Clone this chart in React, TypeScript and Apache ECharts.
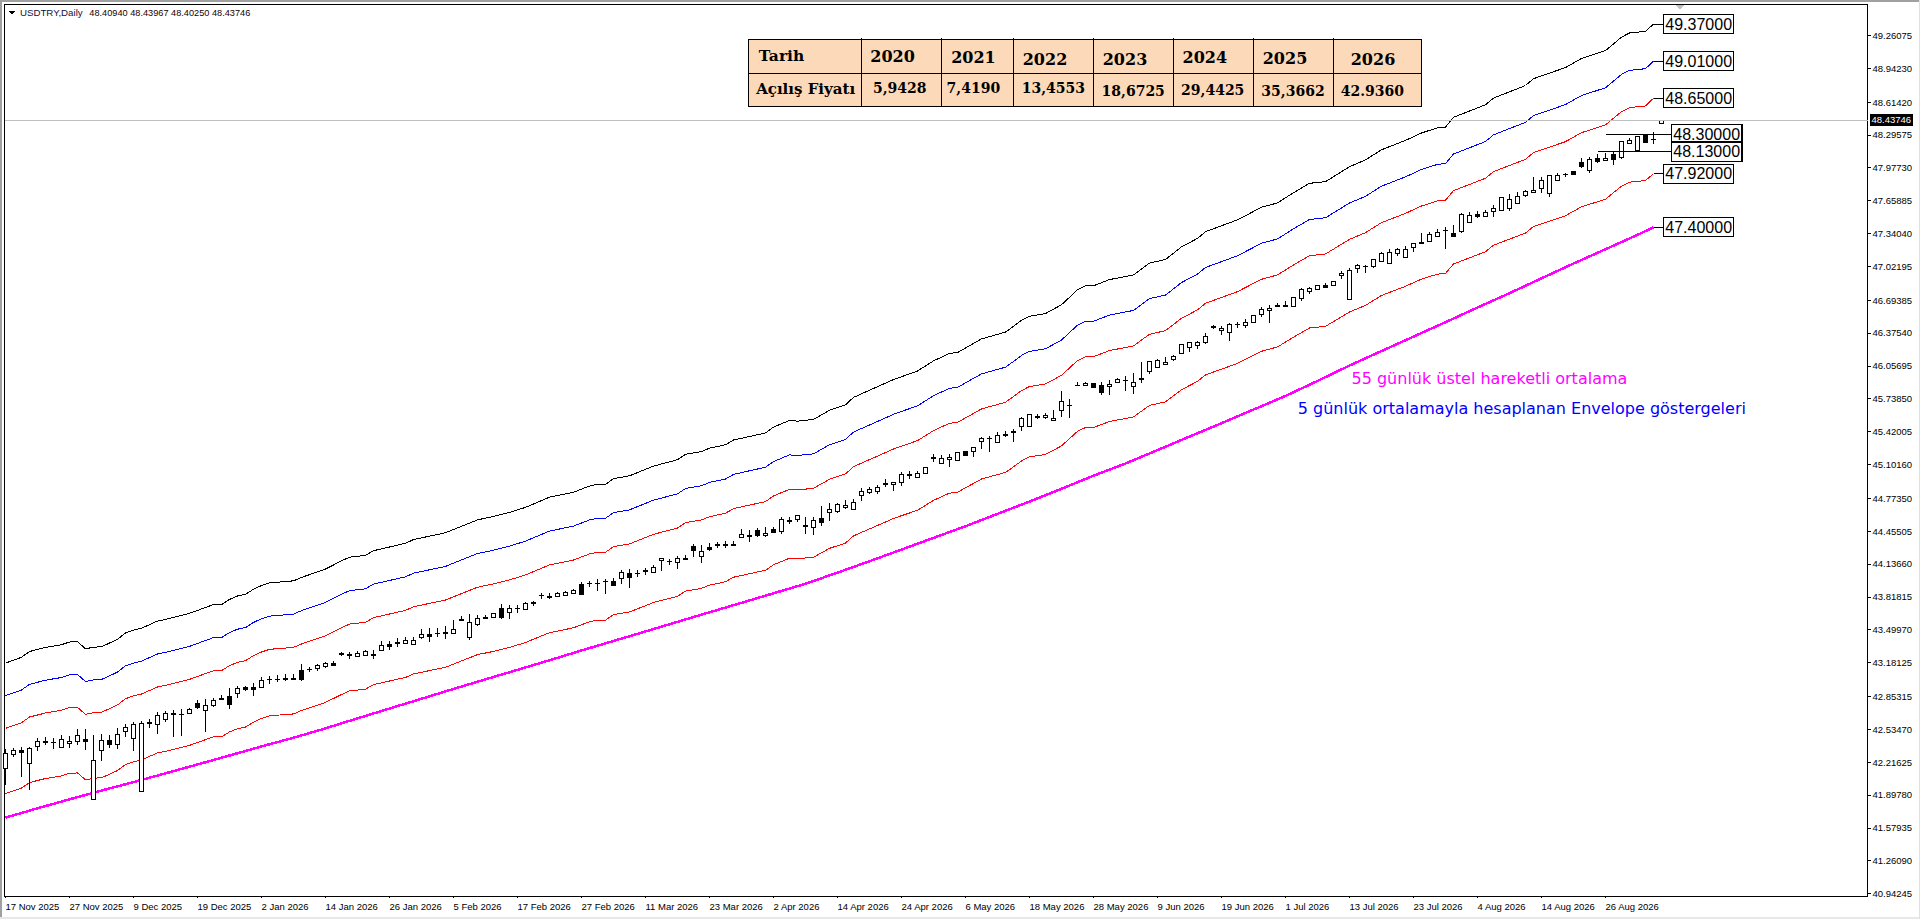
import React, { useEffect, useRef } from "react";
import * as echarts from "echarts";

const opens = [42.156,42.285,42.330,42.204,42.366,42.417,42.408,42.356,42.398,42.414,42.437,41.855,42.333,42.427,42.388,42.511,42.447,41.933,42.602,42.582,42.631,42.689,42.682,42.689,42.786,42.718,42.766,42.834,42.850,42.883,42.941,42.941,42.941,43.018,43.018,43.028,43.025,43.102,43.118,43.122,43.141,43.167,43.264,43.257,43.241,43.251,43.257,43.299,43.354,43.377,43.367,43.357,43.422,43.454,43.464,43.474,43.464,43.600,43.425,43.548,
43.620,43.620,43.707,43.668,43.707,43.698,43.759,43.830,43.823,43.823,43.833,43.849,43.940,43.946,43.949,43.969,43.962,43.998,44.046,44.046,44.069,44.056,44.172,44.162,44.153,44.192,44.308,44.211,44.298,44.324,44.324,44.321,44.395,44.411,44.463,44.415,44.473,44.450,44.560,44.570,44.508,44.492,44.579,44.637,44.641,44.686,44.666,44.802,44.828,44.841,44.915,44.905,44.928,45.006,44.977,45.015,45.167,45.106,45.145,45.141,
45.223,45.226,45.326,45.355,45.316,45.394,45.416,45.468,45.468,45.565,45.555,45.529,45.623,45.675,45.865,45.869,45.881,45.869,45.859,45.898,45.917,45.856,45.933,46.004,46.043,46.072,46.117,46.179,46.237,46.256,46.282,46.434,46.398,46.382,46.456,46.447,46.476,46.553,46.595,46.637,46.637,46.634,46.708,46.773,46.799,46.831,46.834,46.928,46.702,47.002,47.022,47.015,47.067,47.051,47.141,47.106,47.203,47.257,47.264,47.309,
47.371,47.342,47.358,47.449,47.523,47.507,47.549,47.562,47.578,47.633,47.707,47.739,47.775,47.730,47.855,47.913,47.936,48.030,47.946,48.069,48.049,48.107,48.075,48.214,48.143,48.285,48.249,48.40940];
const closes = [42.301,42.330,42.311,42.350,42.414,42.405,42.405,42.437,42.417,42.472,42.417,42.233,42.424,42.382,42.482,42.550,42.585,42.592,42.592,42.669,42.686,42.679,42.679,42.728,42.744,42.763,42.812,42.825,42.776,42.931,42.918,42.921,43.009,43.012,43.012,43.018,43.018,43.012,43.115,43.154,43.167,43.157,43.257,43.251,43.270,43.290,43.254,43.348,43.335,43.370,43.390,43.390,43.454,43.435,43.458,43.467,43.503,43.593,43.571,43.609,
43.610,43.659,43.617,43.701,43.704,43.756,43.752,43.827,43.814,43.846,43.856,43.882,43.843,43.943,43.946,43.966,43.930,44.056,44.007,44.040,44.062,44.104,44.188,44.159,44.192,44.182,44.269,44.256,44.276,44.318,44.318,44.318,44.424,44.405,44.411,44.434,44.444,44.570,44.550,44.605,44.502,44.557,44.540,44.666,44.712,44.705,44.734,44.838,44.857,44.880,44.909,44.925,45.006,44.996,45.015,45.070,45.161,45.161,45.170,45.216,
45.187,45.265,45.352,45.352,45.384,45.384,45.413,45.549,45.581,45.558,45.578,45.549,45.714,45.672,45.862,45.888,45.849,45.798,45.878,45.927,45.914,45.898,45.924,46.098,46.108,46.091,46.150,46.263,46.282,46.282,46.343,46.424,46.421,46.460,46.453,46.479,46.540,46.605,46.615,46.628,46.631,46.721,46.799,46.808,46.831,46.821,46.870,46.954,46.983,47.031,47.015,47.090,47.148,47.151,47.180,47.180,47.241,47.245,47.332,47.351,
47.368,47.313,47.526,47.516,47.507,47.545,47.578,47.691,47.671,47.701,47.746,47.759,47.852,47.897,47.897,47.910,47.910,47.988,48.059,48.033,48.069,48.053,48.233,48.243,48.279,48.221,48.246,48.43746];
const lows = [41.994,42.269,42.075,41.946,42.327,42.382,42.340,42.350,42.356,42.382,42.333,41.855,42.230,42.350,42.343,42.456,42.327,41.933,42.543,42.489,42.608,42.456,42.472,42.682,42.731,42.511,42.753,42.825,42.728,42.834,42.908,42.860,42.937,42.973,42.996,43.002,43.018,43.005,43.093,43.102,43.125,43.154,43.248,43.215,43.238,43.244,43.215,43.296,43.303,43.328,43.361,43.354,43.409,43.383,43.432,43.409,43.458,43.587,43.399,43.538,
43.610,43.610,43.607,43.607,43.665,43.691,43.733,43.801,43.794,43.820,43.827,43.843,43.840,43.911,43.878,43.849,43.927,43.943,43.907,44.014,44.033,44.046,44.072,44.127,44.092,44.182,44.208,44.150,44.266,44.289,44.289,44.318,44.395,44.353,44.402,44.402,44.440,44.431,44.527,44.540,44.431,44.415,44.508,44.557,44.634,44.673,44.663,44.750,44.815,44.815,44.880,44.847,44.893,44.964,44.973,45.012,45.122,45.103,45.080,45.138,
45.184,45.177,45.255,45.226,45.313,45.365,45.316,45.429,45.465,45.539,45.542,45.526,45.565,45.549,45.859,45.862,45.846,45.778,45.778,45.894,45.817,45.788,45.894,45.978,46.040,46.069,46.108,46.175,46.195,46.224,46.269,46.418,46.356,46.301,46.421,46.427,46.469,46.534,46.476,46.624,46.628,46.631,46.689,46.757,46.792,46.818,46.831,46.902,46.702,46.960,46.960,47.009,47.064,47.048,47.122,47.102,47.164,47.245,47.261,47.303,
47.193,47.310,47.348,47.445,47.494,47.503,47.503,47.558,47.562,47.629,47.691,47.733,47.736,47.697,47.849,47.891,47.904,47.978,47.930,48.020,48.046,48.004,48.066,48.211,48.140,48.217,48.208,48.40250];
const highs = [42.343,42.350,42.359,42.366,42.447,42.456,42.453,42.479,42.469,42.537,42.537,42.479,42.489,42.479,42.543,42.582,42.608,42.614,42.631,42.702,42.711,42.721,42.731,42.737,42.818,42.828,42.834,42.866,42.934,42.954,42.954,42.980,43.038,43.051,43.060,43.070,43.070,43.167,43.141,43.167,43.190,43.196,43.280,43.286,43.293,43.303,43.303,43.390,43.390,43.416,43.425,43.425,43.506,43.512,43.512,43.535,43.593,43.635,43.651,43.642,
43.643,43.665,43.749,43.740,43.740,43.772,43.778,43.853,43.853,43.865,43.872,43.891,43.966,43.975,43.988,43.988,43.998,44.079,44.088,44.079,44.101,44.127,44.188,44.185,44.214,44.224,44.330,44.321,44.337,44.347,44.363,44.363,44.473,44.466,44.482,44.492,44.499,44.589,44.595,44.608,44.589,44.595,44.696,44.725,44.731,44.757,44.763,44.870,44.880,44.902,44.957,44.925,45.025,45.035,45.041,45.077,45.199,45.193,45.199,45.225,
45.223,45.265,45.365,45.378,45.413,45.429,45.442,45.565,45.588,45.591,45.597,45.630,45.814,45.736,45.904,45.904,45.894,45.901,45.920,45.940,45.962,45.988,46.091,46.101,46.121,46.140,46.159,46.269,46.285,46.295,46.372,46.450,46.444,46.469,46.485,46.508,46.550,46.631,46.647,46.670,46.689,46.728,46.812,46.825,46.841,46.857,46.880,46.980,47.002,47.044,47.035,47.096,47.164,47.186,47.196,47.222,47.251,47.348,47.358,47.380,
47.400,47.423,47.536,47.549,47.562,47.568,47.616,47.697,47.720,47.739,47.762,47.885,47.885,47.904,47.923,47.930,47.949,48.069,48.078,48.111,48.117,48.143,48.240,48.262,48.285,48.295,48.321,48.43967];

const bandBars = [0,2,3,5,7,8,9,10,11,12,14,15,16,17,19,20,23,26,27,28,29,30,31,32,33,36,37,40,41,42,43,45,46,50,51,55,59,61,63,65,67,68,71,73,74,75,76,78,81,84,85,87,88,90,91,94,95,96,98,99,101,103,105,106,110,111,114,116,118,119,122,125,126,127,128,130,132,134,135,136,138,141,143,145,147,149,150,154,157,159,161,163,165,168,170,172,175,177,179,180,181,185,186,190,191,195,197,200,202,203,205,206];
const upperRed = [42.543,42.598,42.653,42.692,42.718,42.744,42.747,42.679,42.695,42.699,42.770,42.831,42.857,42.876,42.944,42.960,43.018,43.102,43.102,43.151,43.183,43.199,43.248,43.283,43.309,43.328,43.361,43.441,43.480,43.519,43.554,43.571,43.616,43.687,43.722,43.787,43.911,43.943,43.982,44.030,44.095,44.127,44.175,44.234,44.250,44.250,44.305,44.331,44.424,44.485,44.537,44.563,44.595,44.628,44.673,44.724,44.741,44.796,44.860,44.854,44.870,44.957,45.009,45.080,45.216,45.251,45.332,45.429,45.500,45.509,45.639,45.704,45.759,45.817,45.856,45.881,45.965,46.108,46.146,46.146,46.205,46.250,46.363,46.398,46.518,46.599,46.663,46.776,46.896,46.938,47.035,47.125,47.141,47.283,47.348,47.445,47.535,47.606,47.655,47.662,47.755,47.875,47.939,48.059,48.124,48.230,48.317,48.392,48.521,48.560,48.576,48.650];
const upperBlue = [42.860,42.915,42.970,43.010,43.036,43.062,43.065,42.997,43.013,43.017,43.088,43.150,43.176,43.195,43.264,43.280,43.338,43.423,43.423,43.472,43.504,43.520,43.570,43.605,43.631,43.650,43.684,43.764,43.804,43.843,43.878,43.895,43.941,44.012,44.047,44.113,44.238,44.270,44.309,44.358,44.423,44.455,44.504,44.563,44.579,44.579,44.635,44.661,44.755,44.816,44.868,44.895,44.927,44.960,45.005,45.057,45.074,45.129,45.194,45.188,45.204,45.292,45.344,45.415,45.552,45.588,45.669,45.767,45.839,45.848,45.979,46.044,46.099,46.158,46.197,46.222,46.307,46.451,46.489,46.489,46.549,46.594,46.708,46.743,46.864,46.946,47.010,47.124,47.245,47.287,47.385,47.476,47.492,47.635,47.700,47.798,47.889,47.960,48.010,48.017,48.110,48.231,48.296,48.417,48.482,48.589,48.677,48.752,48.882,48.921,48.937,49.010];
const upperBlack = [43.176,43.232,43.288,43.327,43.354,43.380,43.383,43.314,43.330,43.334,43.406,43.468,43.495,43.514,43.583,43.599,43.658,43.743,43.743,43.793,43.826,43.842,43.892,43.927,43.953,43.973,44.006,44.087,44.127,44.167,44.202,44.219,44.265,44.337,44.373,44.439,44.564,44.597,44.636,44.685,44.751,44.784,44.832,44.892,44.908,44.908,44.964,44.991,45.085,45.147,45.200,45.226,45.259,45.292,45.338,45.389,45.407,45.463,45.528,45.521,45.538,45.626,45.679,45.751,45.889,45.924,46.007,46.105,46.177,46.186,46.318,46.384,46.440,46.499,46.538,46.564,46.649,46.794,46.833,46.833,46.893,46.938,47.053,47.088,47.210,47.292,47.357,47.472,47.594,47.636,47.735,47.826,47.842,47.987,48.053,48.151,48.242,48.314,48.364,48.371,48.466,48.587,48.652,48.774,48.840,48.948,49.036,49.112,49.243,49.283,49.299,49.370];
const lowerRed = [41.910,41.964,42.018,42.057,42.082,42.108,42.111,42.044,42.060,42.064,42.134,42.194,42.219,42.238,42.305,42.321,42.378,42.461,42.461,42.509,42.540,42.556,42.604,42.639,42.665,42.683,42.716,42.795,42.833,42.871,42.906,42.923,42.967,43.037,43.071,43.135,43.258,43.289,43.328,43.375,43.439,43.470,43.518,43.576,43.592,43.592,43.646,43.671,43.763,43.823,43.874,43.900,43.931,43.964,44.008,44.059,44.075,44.129,44.192,44.187,44.202,44.288,44.339,44.409,44.543,44.578,44.657,44.753,44.823,44.832,44.960,45.024,45.078,45.135,45.174,45.198,45.281,45.422,45.459,45.459,45.517,45.562,45.673,45.708,45.826,45.906,45.969,46.080,46.198,46.240,46.335,46.424,46.440,46.579,46.643,46.739,46.828,46.898,46.946,46.953,47.044,47.163,47.226,47.344,47.408,47.512,47.598,47.672,47.799,47.837,47.853,47.920];

const emaBars = [0,4,8,12,16,20,24,28,32,36,40,44,48,52,56,60,64,68,72,76,80,84,88,92,96,100,104,108,112,116,120,124,128,132,136,140,144,148,152,156,160,164,168,172,176,180,184,188,192,196,200,204,206];
const emaValues = [41.678,41.768,41.855,41.940,42.022,42.107,42.193,42.280,42.368,42.452,42.543,42.640,42.735,42.830,42.925,43.018,43.110,43.203,43.298,43.390,43.482,43.575,43.668,43.760,43.852,43.945,44.052,44.163,44.276,44.389,44.502,44.622,44.741,44.865,44.992,45.110,45.240,45.371,45.500,45.633,45.765,45.910,46.060,46.200,46.340,46.480,46.622,46.761,46.905,47.048,47.187,47.326,47.400];

const priceTicks = [40.94245,41.26090,41.57935,41.89780,42.21625,42.53470,42.85315,43.18125,43.49970,43.81815,44.13660,44.45505,44.77350,45.10160,45.42005,45.73850,46.05695,46.37540,46.69385,47.02195,47.34040,47.65885,47.97730,48.29575,48.61420,48.94230,49.26075];
const dateBars = [0,8,16,24,32,40,48,56,64,72,80,88,96,104,112,120,128,136,144,152,160,168,176,184,192,200];
const dateLabels = ["17 Nov 2025","27 Nov 2025","9 Dec 2025","19 Dec 2025","2 Jan 2026","14 Jan 2026","26 Jan 2026","5 Feb 2026","17 Feb 2026","27 Feb 2026","11 Mar 2026","23 Mar 2026","2 Apr 2026","14 Apr 2026","24 Apr 2026","6 May 2026","18 May 2026","28 May 2026","9 Jun 2026","19 Jun 2026","1 Jul 2026","13 Jul 2026","23 Jul 2026","4 Aug 2026","14 Aug 2026","26 Aug 2026"];
const priceCallouts = [49.37,49.01,48.65,47.92,47.40];
const calloutStartBar = 206;
const calloutEndBar = 207.35;
const levelCallouts = [48.30,48.13];
const levelStartBars = [200,199];
const levelEndBar = 208.35;
const tableYears = ["2020","2021","2022","2023","2024","2025","2026"];
const tableOpens = ["5,9428","7,4190","13,4553","18,6725","29,4425","35,3662","42.9360"];

const lastPrice = 48.43746;
const AXIS_FONT = "Liberation Sans";
const SERIF = "DejaVu Serif";

const colEdges = [861.5,941.5,1013.5,1093.5,1173.5,1253.5,1333.5];
const yearX = [892.6,973.4,1045,1125,1204.8,1285,1373];
const yearY = [56,57.7,59,59,57.3,58,59.7];
const openX = [899.7,973.4,1053.3,1133.2,1212.7,1293,1372.4];
const openY = [88.3,88.3,88.3,91,90,91.3,90.7];

function App() {
  const ref = useRef<HTMLDivElement>(null);
  useEffect(() => {
    const chart = echarts.init(ref.current!, undefined, { renderer: "svg" });
    const candles = opens.map((o, i) => [i, o, closes[i], lows[i], highs[i]]);
    const band = (name: string, vals: number[], color: string) => ({
      type: "line", name, data: bandBars.map((b, i) => [b, vals[i]]),
      showSymbol: false, symbol: "none", silent: true,
      lineStyle: { color, width: 1 }, z: 3,
    });
    const boxLabel = (thick: number) => ({
      show: true, distance: 0,
      formatter: (p: any) => p.value[1].toFixed(5),
      fontFamily: "Liberation Sans", fontSize: 16, color: "#000",
      backgroundColor: "#fff", borderColor: "#000", borderWidth: thick,
      padding: [1, 1, 1, 1], lineHeight: 16,
    });
    const callouts = priceCallouts.map((v, k) => ({
      type: "line", name: "callout" + k, symbol: "none", silent: true, clip: false,
      data: [[calloutStartBar, v], [calloutEndBar, v]],
      lineStyle: { color: "#000", width: 1 }, z: 5,
      endLabel: boxLabel(1),
    }));
    const levels = levelCallouts.map((v, k) => ({
      type: "line", name: "level" + k, symbol: "none", silent: true, clip: false,
      data: [[levelStartBars[k], v], [levelEndBar, v]],
      lineStyle: { color: "#000", width: 1 }, z: 5,
      endLabel: boxLabel(1.5),
    }));
    const tableEls: any[] = [
      { type: "rect", shape: { x: 748.5, y: 39.5, width: 673, height: 67 }, style: { fill: "#FCD9B8", stroke: "#000", lineWidth: 1 } },
      { type: "line", shape: { x1: 748.5, y1: 73.5, x2: 1421.5, y2: 73.5 }, style: { stroke: "#000", lineWidth: 1 } },
      ...colEdges.map((x) => ({ type: "line", shape: { x1: x, y1: 38, x2: x, y2: 107 }, style: { stroke: "#000", lineWidth: 1 } })),
      { type: "text", x: 781.5, y: 55, style: { text: "Tarih", font: `bold 15.5px "${SERIF}"`, fill: "#000", align: "center", verticalAlign: "middle" } },
      { type: "text", x: 805.6, y: 89, style: { text: "Açılış Fiyatı", font: `bold 15px "${SERIF}"`, fill: "#000", align: "center", verticalAlign: "middle" } },
      ...tableYears.map((t, i) => ({ type: "text", x: yearX[i], y: yearY[i], style: { text: t, font: `bold 16px "${SERIF}"`, fill: "#000", align: "center", verticalAlign: "middle" } })),
      ...tableOpens.map((t, i) => ({ type: "text", x: openX[i], y: openY[i], style: { text: t, font: `bold 14px "${SERIF}"`, fill: "#000", align: "center", verticalAlign: "middle" } })),
    ];
    chart.setOption({
      animation: false,
      backgroundColor: "#fff",
      grid: { left: 4.5, top: 4, width: 1863, height: 892, show: true, borderColor: "#000", borderWidth: 1, backgroundColor: "#fff" },
      xAxis: {
        type: "value", min: -0.125, max: 232.75, scale: true, splitLine: { show: false },
        axisLine: { show: true, onZero: false, lineStyle: { color: "#000" } },
        axisTick: { show: true, length: 2, lineStyle: { color: "#000" }, customValues: dateBars },
        axisLabel: {
          customValues: dateBars, align: "left", margin: 5, color: "#000", fontFamily: AXIS_FONT, fontSize: 9.5,
          formatter: (v: number) => dateLabels[dateBars.indexOf(v)] ?? "",
        },
      },
      yAxis: {
        type: "value", position: "right", min: 40.9182, max: 49.5641, scale: true, splitLine: { show: false },
        axisLine: { show: true, onZero: false, lineStyle: { color: "#000" } },
        axisTick: { show: true, length: 3, lineStyle: { color: "#000" }, customValues: priceTicks },
        axisLabel: {
          customValues: priceTicks, margin: 5, color: "#000", fontFamily: AXIS_FONT, fontSize: 9.5,
          formatter: (v: number) => v.toFixed(5),
        },
      },
      series: [
        {
          type: "candlestick", name: "USDTRY", data: candles, barWidth: 4, silent: true, z: 4,
          encode: { x: 0, y: [1, 2, 3, 4] },
          itemStyle: { color: "#fff", color0: "#000", borderColor: "#000", borderColor0: "#000", borderWidth: 1 },
          markLine: {
            silent: true, symbol: "none", animation: false,
            lineStyle: { color: "#C0C0C0", width: 1, type: "solid" },
            data: [{ yAxis: lastPrice }],
            label: {
              show: true, position: "end", distance: 2, formatter: () => lastPrice.toFixed(5),
              color: "#fff", backgroundColor: "#000", fontFamily: AXIS_FONT, fontSize: 9.5, padding: [1, 2],
            },
          },
        },
        band("Envelope +2.25%", upperBlack, "#000"),
        band("Envelope +1.5%", upperBlue, "#0000FF"),
        band("Envelope +0.75%", upperRed, "#FF0000"),
        band("Envelope -0.75%", lowerRed, "#FF0000"),
        {
          type: "line", name: "EMA 55", data: emaBars.map((b, i) => [b, emaValues[i]]),
          showSymbol: false, symbol: "none", silent: true, lineStyle: { color: "#FF00FF", width: 2.5 }, z: 3,
        },
        ...callouts,
        ...levels,
      ],
      graphic: [
        { type: "rect", shape: { x: 0, y: 0, width: 1920, height: 2 }, style: { fill: "#A0A0A0" } },
        { type: "rect", shape: { x: 0, y: 0, width: 2, height: 919 }, style: { fill: "#A0A0A0" } },
        { type: "rect", shape: { x: 0, y: 917, width: 1920, height: 2 }, style: { fill: "#E8E8E8" } },
        { type: "rect", shape: { x: 1918.5, y: 0, width: 1.5, height: 919 }, style: { fill: "#E0E0E0" } },
        { type: "polygon", shape: { points: [[1675, 5], [1684, 5], [1679.5, 9.5]] }, style: { fill: "#C0C0C0" } },
        { type: "polygon", shape: { points: [[8.3, 11], [15.7, 11], [12, 14.5]] }, style: { fill: "#000" } },
        { type: "text", x: 20, y: 12.5, style: { text: "USDTRY,Daily", font: `9.7px "${AXIS_FONT}"`, fill: "#101040", verticalAlign: "middle" } },
        { type: "text", x: 89.3, y: 12.5, style: { text: "48.40940 48.43967 48.40250 48.43746", font: `9.2px "${AXIS_FONT}"`, fill: "#200000", verticalAlign: "middle" } },
        { type: "text", x: 1351.5, y: 378.3, style: { text: "55 günlük üstel hareketli ortalama", font: `16px "DejaVu Sans"`, fill: "#FF00FF", verticalAlign: "middle" } },
        { type: "text", x: 1297.8, y: 408.3, style: { text: "5 günlük ortalamayla hesaplanan Envelope göstergeleri", font: `16px "DejaVu Sans"`, fill: "#0000FF", verticalAlign: "middle" } },
        ...tableEls,
      ],
    });
    return () => chart.dispose();
  }, []);
  return <div ref={ref} style={{ position: "absolute", left: 0, top: 0, width: 1920, height: 919, shapeRendering: "crispEdges" } as any} />;
}

export default App;
